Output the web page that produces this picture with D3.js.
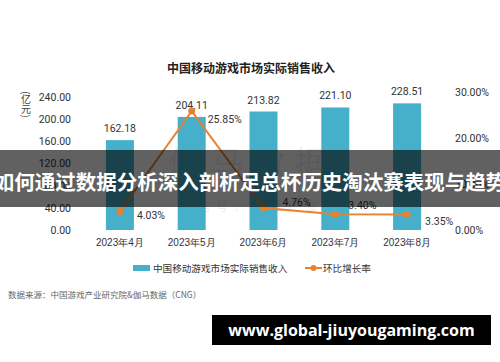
<!DOCTYPE html>
<html>
<head>
<meta charset="utf-8">
<script src="https://cdn.jsdelivr.net/npm/d3@7"></script>
<style>
  html, body { margin: 0; padding: 0; background: #fff; }
  svg { display: block; font-family: "Noto Sans CJK SC", "Noto Sans", sans-serif; }
</style>
</head>
<body>
<div id="chart"></div>
<script>
// 数据
var months = ['2023年4月', '2023年5月', '2023年6月', '2023年7月', '2023年8月'];
var revenue = [162.18, 204.11, 213.82, 221.10, 228.51];
var growth = [4.03, 25.85, 4.76, 3.40, 3.35];
var leftTicks = [0, 40, 80, 120, 160, 200, 240];
var rightTicks = [0, 10, 20, 30];

var W = 500, H = 362;
var barColor = '#46afc9';
var lineColor = '#e8822e';

var svg = d3.select('#chart').append('svg')
    .attr('width', W)
    .attr('height', H);

var x = d3.scaleBand()
    .domain(months)
    .range([84, 443])
    .paddingInner(0.61)
    .paddingOuter(0.305);

var yL = d3.scaleLinear().domain([0, 240]).range([230, 97]);
var yR = d3.scaleLinear().domain([0, 30]).range([230, 92]);

// 标题
svg.append('text')
    .attr('x', 251)
    .attr('y', 73)
    .attr('text-anchor', 'middle')
    .attr('font-size', 12)
    .attr('font-weight', 'bold')
    .attr('fill', '#222')
    .text('中国移动游戏市场实际销售收入');

// 单位
svg.append('text')
    .attr('x', 26)
    .attr('y', 91)
    .attr('font-size', 10)
    .attr('fill', '#444')
    .style('writing-mode', 'vertical-rl')
    .text('(亿元)');

// 左轴
var axL = svg.append('g')
    .attr('transform', 'translate(71,0)')
    .call(d3.axisLeft(yL).tickValues(leftTicks).tickFormat(d3.format('.2f')).tickSize(0).tickPadding(0));
axL.select('.domain').remove();
axL.selectAll('text').attr('font-size', 10.5).attr('fill', '#333').attr('font-family', 'Roboto, "Noto Sans", sans-serif');

// 右轴
var axR = svg.append('g')
    .attr('transform', 'translate(455,0)')
    .call(d3.axisRight(yR).tickValues(rightTicks).tickFormat(function (d) { return d.toFixed(2) + '%'; }).tickSize(0).tickPadding(0));
axR.select('.domain').remove();
axR.selectAll('text').attr('font-size', 10.5).attr('fill', '#333').attr('font-family', 'Roboto, "Noto Sans", sans-serif');

// 水印
svg.append('text')
    .attr('x', 252)
    .attr('y', 176)
    .attr('text-anchor', 'middle')
    .attr('font-size', 34)
    .attr('fill', '#000')
    .attr('opacity', 0.06)
    .attr('letter-spacing', 8)
    .text('伽马数据');
svg.append('text')
    .attr('x', 252)
    .attr('y', 211)
    .attr('text-anchor', 'middle')
    .attr('font-size', 12)
    .attr('fill', '#000')
    .attr('opacity', 0.08)
    .attr('letter-spacing', 6)
    .text('微信号：游戏产业');

// 柱
svg.selectAll('rect.bar')
    .data(revenue)
    .enter()
    .append('rect')
    .attr('class', 'bar')
    .attr('x', function (d, i) { return x(months[i]); })
    .attr('y', function (d) { return yL(d); })
    .attr('width', x.bandwidth())
    .attr('height', function (d) { return yL(0) - yL(d); })
    .attr('fill', barColor);

svg.selectAll('text.bar-label')
    .data(revenue)
    .enter()
    .append('text')
    .attr('class', 'bar-label')
    .attr('x', function (d, i) { return x(months[i]) + x.bandwidth() / 2; })
    .attr('y', function (d) { return yL(d) - 8; })
    .attr('text-anchor', 'middle')
    .attr('font-size', 10.5)
    .attr('fill', '#333')
    .attr('font-family', 'Roboto, "Noto Sans", sans-serif')
    .text(function (d) { return d.toFixed(2); });

// 折线
var cx = function (d, i) { return x(months[i]) + x.bandwidth() / 2; };
var line = d3.line()
    .x(cx)
    .y(function (d) { return yR(d); });

svg.append('path')
    .datum(growth)
    .attr('d', line)
    .attr('fill', 'none')
    .attr('stroke', lineColor)
    .attr('stroke-width', 2);

svg.selectAll('circle.pt')
    .data(growth)
    .enter()
    .append('circle')
    .attr('class', 'pt')
    .attr('cx', cx)
    .attr('cy', function (d) { return yR(d); })
    .attr('r', 3.5)
    .attr('fill', lineColor);

// 折线标签位置（相对点）
var gOff = [[17, 4], [16, 8], [19, -6], [13, -9], [18, 7]];
svg.selectAll('text.pt-label')
    .data(growth)
    .enter()
    .append('text')
    .attr('class', 'pt-label')
    .attr('x', function (d, i) { return cx(d, i) + gOff[i][0]; })
    .attr('y', function (d, i) { return yR(d) + gOff[i][1] + 3.5; })
    .attr('font-size', 10.5)
    .attr('fill', '#333')
    .attr('font-family', 'Roboto, "Noto Sans", sans-serif')
    .text(function (d) { return d.toFixed(2) + '%'; });

// x 轴
var axX = svg.append('g')
    .attr('transform', 'translate(0,237)')
    .call(d3.axisBottom(x).tickSize(0).tickPadding(0));
axX.select('.domain').remove();
axX.selectAll('text').attr('font-size', 10).attr('fill', '#333').attr('dy', '0.9em');

// 图例
var lg = svg.append('g');
lg.append('rect').attr('x', 133).attr('y', 265).attr('width', 17).attr('height', 6).attr('fill', barColor);
lg.append('text').attr('x', 153).attr('y', 271.5).attr('font-size', 9.6).attr('fill', '#333').text('中国移动游戏市场实际销售收入');
lg.append('line').attr('x1', 305).attr('x2', 322).attr('y1', 268).attr('y2', 268).attr('stroke', lineColor).attr('stroke-width', 2);
lg.append('circle').attr('cx', 313.5).attr('cy', 268).attr('r', 3).attr('fill', lineColor);
lg.append('text').attr('x', 323).attr('y', 271.5).attr('font-size', 9.6).attr('fill', '#333').text('环比增长率');

// 来源
svg.append('text')
    .attr('x', 8)
    .attr('y', 298)
    .attr('font-size', 8.5)
    .attr('fill', '#666')
    .text('数据来源：中国游戏产业研究院&伽马数据（CNG）');

// 标题横幅
svg.append('rect')
    .attr('x', 0).attr('y', 150)
    .attr('width', W).attr('height', 57)
    .attr('fill', '#000')
    .attr('opacity', 0.62);
svg.append('text')
    .attr('x', 250)
    .attr('y', 190)
    .attr('text-anchor', 'middle')
    .attr('font-size', 20.5)
    .attr('font-weight', 'bold')
    .attr('fill', '#fff')
    .text('如何通过数据分析深入剖析足总杯历史淘汰赛表现与趋势');

// 网址
svg.append('rect')
    .attr('x', 212).attr('y', 315)
    .attr('width', 279).attr('height', 30)
    .attr('fill', '#000');
svg.append('text')
    .attr('x', 351.5)
    .attr('y', 336)
    .attr('text-anchor', 'middle')
    .attr('font-size', 16)
    .attr('font-weight', 'bold')
    .attr('fill', '#fff')
    .attr('font-family', '"Open Sans", "DejaVu Sans", sans-serif')
    .text('www.global-jiuyougaming.com');
</script>
</body>
</html>
